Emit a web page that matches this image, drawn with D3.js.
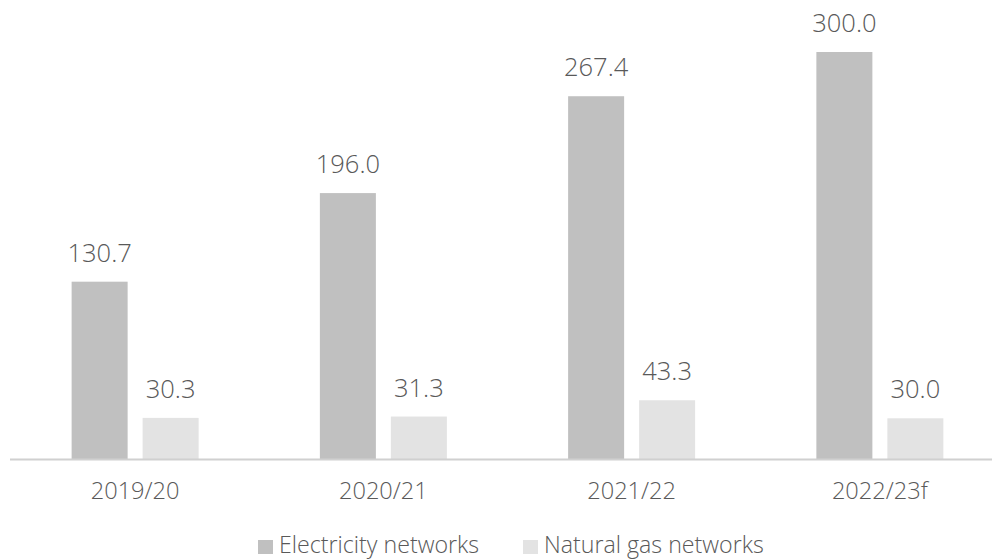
<!DOCTYPE html>
<meta charset="utf-8">
<style>
body { margin: 0; background: #fff; }
text { font-family: "Open Sans", "Noto Sans", sans-serif; fill: #595959; font-weight: 300; }
</style>
<svg width="992" height="559"></svg>
<script src="https://cdn.jsdelivr.net/npm/d3@7"></script>
<script>

var categories = ["2019/20", "2020/21", "2021/22", "2022/23f"];
var seriesNames = ["Electricity networks", "Natural gas networks"];
var electricity = [130.7, 196.0, 267.4, 300.0];
var naturalGas = [30.3, 31.3, 43.3, 30.0];
var colors = ["#c0c0c0", "#e3e3e3"];

var svg = d3.select("svg");

var rows = categories.map(function (c, i) {
  return { cat: c, values: [electricity[i], naturalGas[i]] };
});

var x0 = d3.scaleBand()
    .domain(categories)
    .range([11, 1004]);

var x1 = d3.scaleBand()
    .domain(d3.range(seriesNames.length))
    .range([0, x0.bandwidth()])
    .paddingInner(0.211)
    .paddingOuter(0.854);

var y = d3.scaleLinear()
    .domain([0, 300])
    .range([459, 52]);

var group = svg.selectAll(".grp")
    .data(rows)
    .enter()
    .append("g")
    .attr("class", "grp")
    .attr("transform", function (d) { return "translate(" + x0(d.cat) + ",0)"; });

group.selectAll("rect")
    .data(function (d) { return d.values; })
    .enter()
    .append("rect")
    .attr("x", function (d, i) { return x1(i); })
    .attr("y", function (d) { return y(d); })
    .attr("width", x1.bandwidth())
    .attr("height", function (d) { return y(0) - y(d); })
    .style("fill", function (d, i) { return colors[i]; });

group.selectAll(".val")
    .data(function (d) { return d.values; })
    .enter()
    .append("text")
    .attr("class", "val")
    .attr("x", function (d, i) { return x1(i) + x1.bandwidth() / 2; })
    .attr("y", function (d) { return y(d) - 20; })
    .attr("text-anchor", "middle")
    .style("font-size", "25.5px")
    .text(function (d) { return d.toFixed(1); });

// baseline axis
var axis = svg.append("g")
    .attr("transform", "translate(0," + y(0) + ")")
    .call(d3.axisBottom(x0).tickSize(0).tickPadding(23));

axis.select(".domain")
    .attr("d", "M10,0.5H992")
    .style("stroke", "#d0d0d0")
    .style("stroke-width", 2);

axis.selectAll("text")
    .attr("font-family", null)
    .style("font-size", "23.6px")
    .style("fill", "#595959");

// legend
var legendX = [258, 523];
var legend = svg.selectAll(".leg")
    .data(seriesNames)
    .enter()
    .append("g")
    .attr("class", "leg")
    .attr("transform", function (d, i) { return "translate(" + legendX[i] + ",540)"; });

legend.append("rect")
    .attr("width", 15)
    .attr("height", 14)
    .style("fill", function (d, i) { return colors[i]; });

legend.append("text")
    .attr("x", 21)
    .attr("y", 13)
    .style("font-size", "23.2px")
    .text(function (d) { return d; });

</script>
